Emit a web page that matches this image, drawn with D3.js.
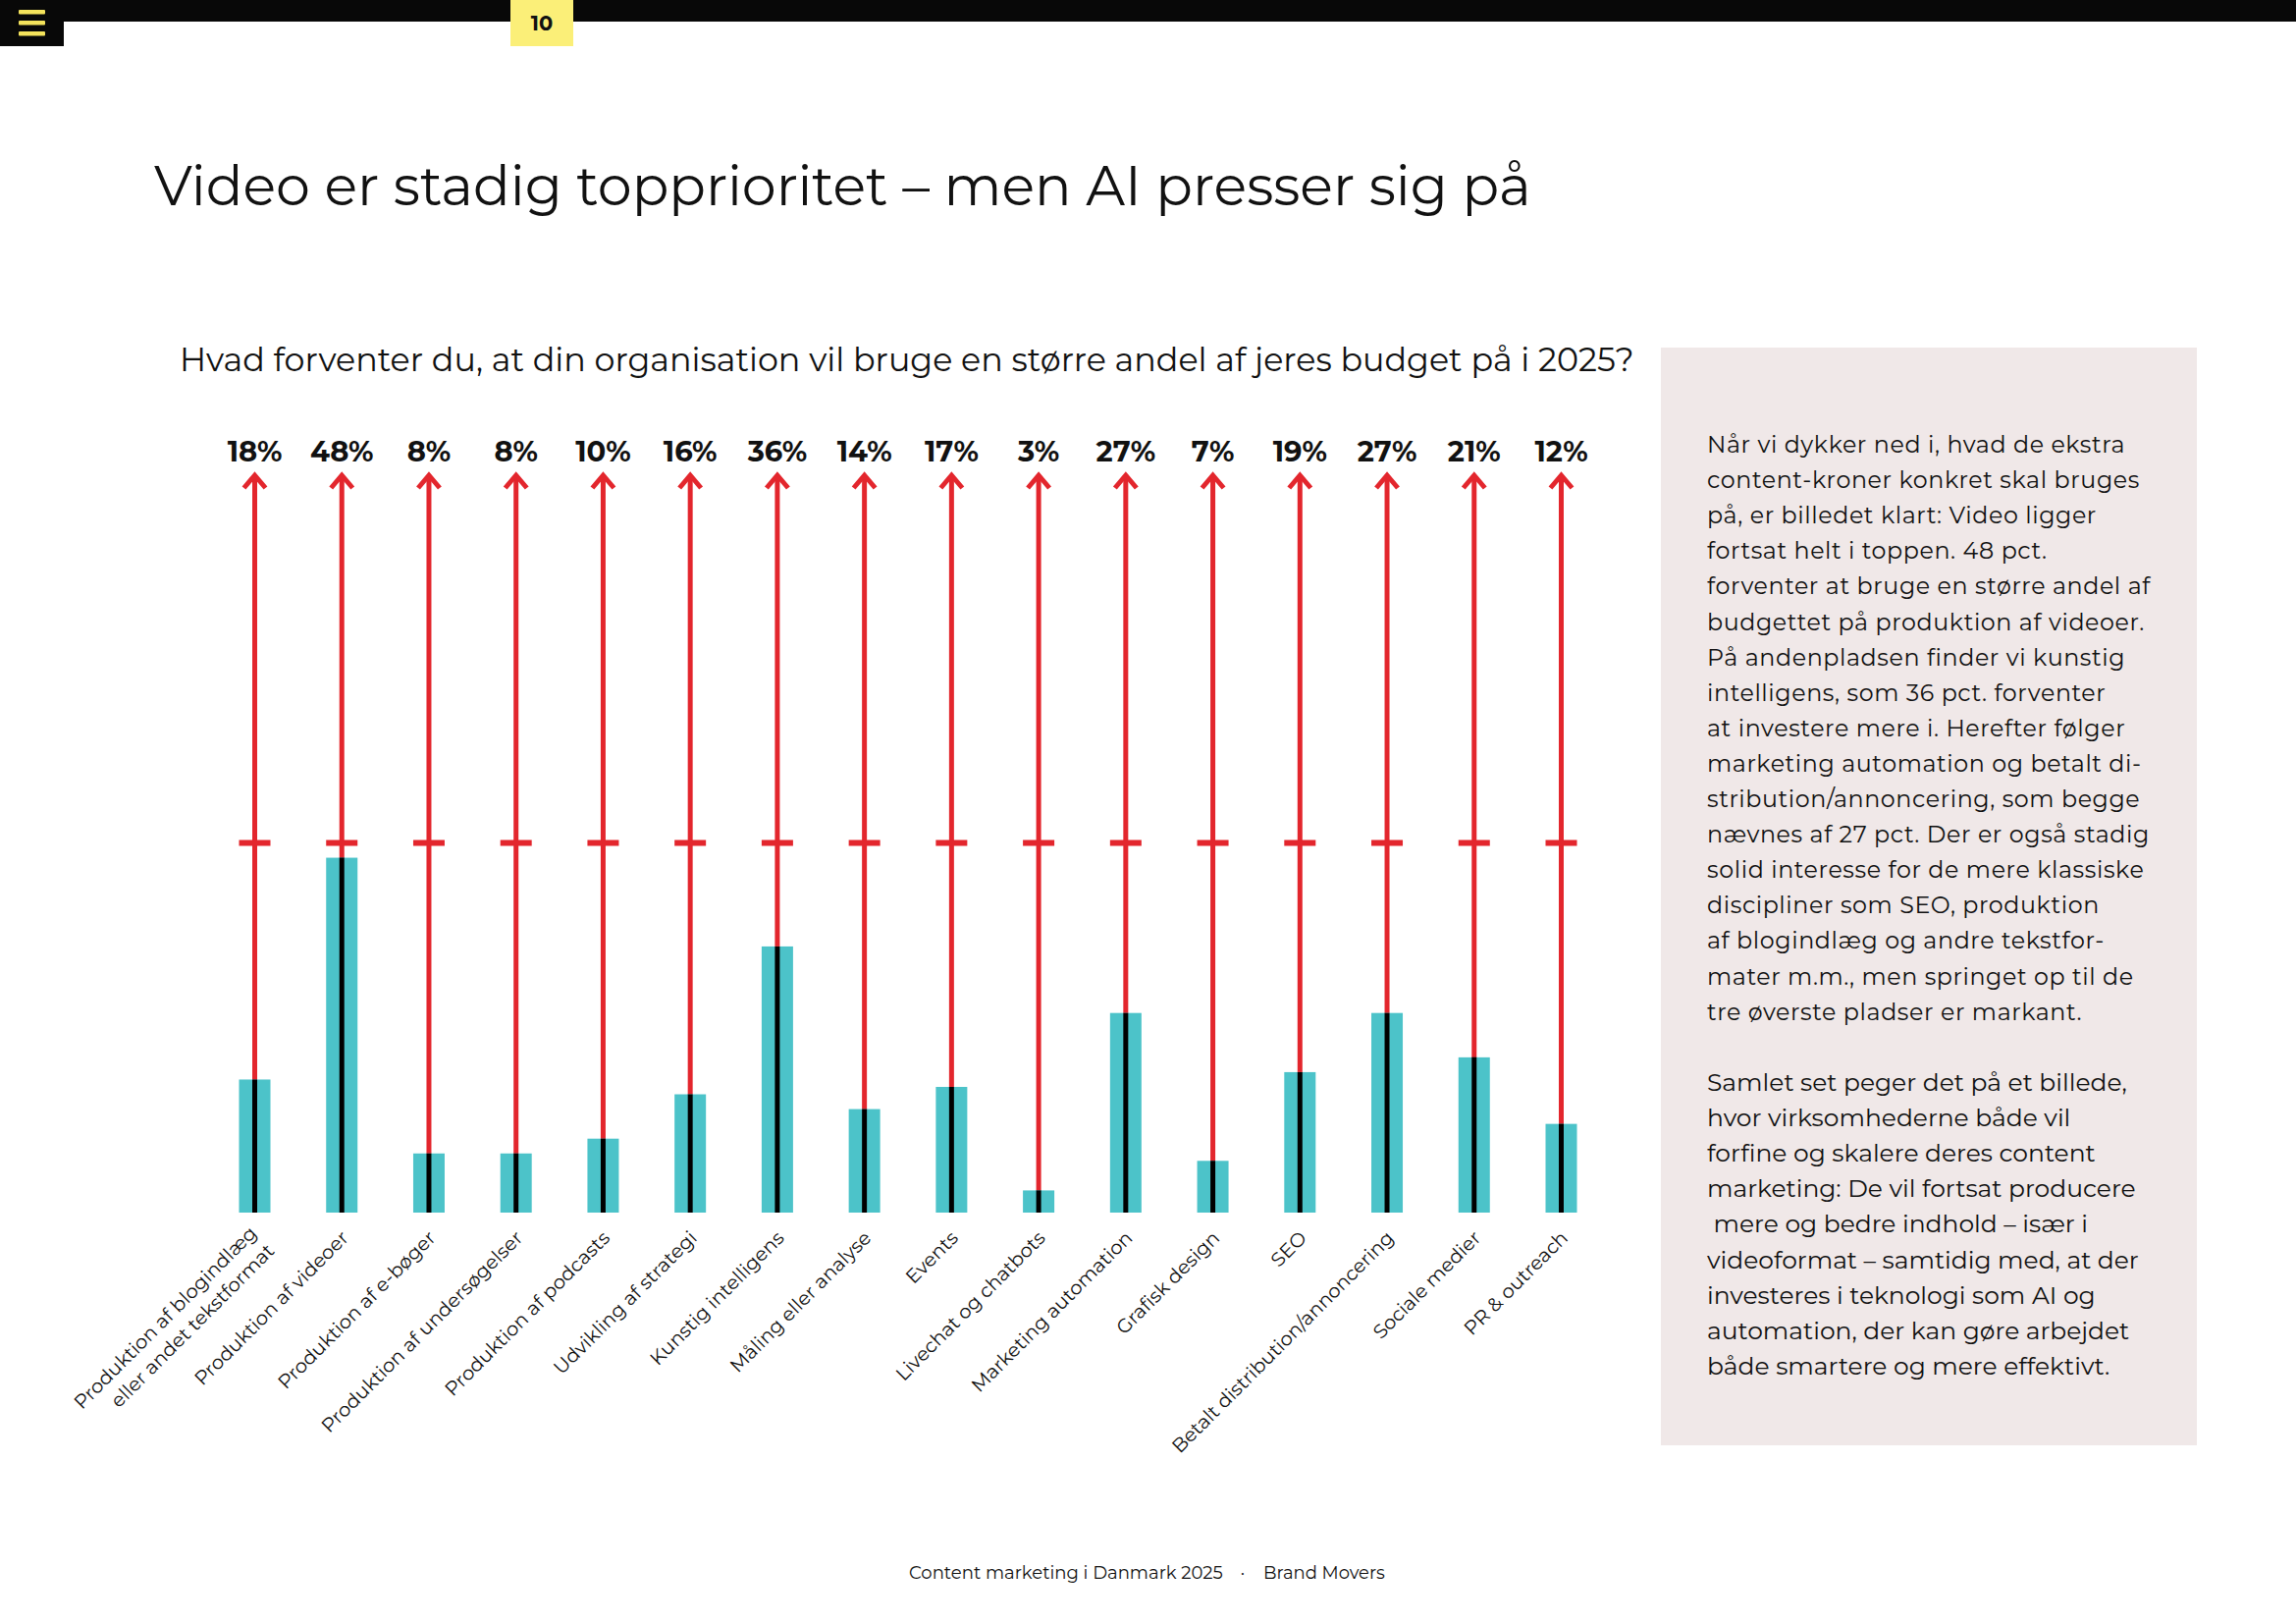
<!DOCTYPE html>
<html>
<head>
<meta charset="utf-8">
<script src="https://cdn.jsdelivr.net/npm/d3@7"></script>
<style>
  body { margin: 0; background: #fff; }
  svg { display: block; }
  text { font-family: Montserrat, "Open Sans", "Noto Sans", sans-serif; fill: #111; }
</style>
</head>
<body>
<div id="chart"></div>
<script>
// Budget priorities 2025 - lollipop/arrow bar chart

const categories = [
    "Produktion af blogindlæg|eller andet tekstformat",
    "Produktion af videoer",
    "Produktion af e-bøger",
    "Produktion af undersøgelser",
    "Produktion af podcasts",
    "Udvikling af strategi",
    "Kunstig intelligens",
    "Måling eller analyse",
    "Events",
    "Livechat og chatbots",
    "Marketing automation",
    "Grafisk design",
    "SEO",
    "Betalt distribution/annoncering",
    "Sociale medier",
    "PR & outreach"
];
const values = [18, 48, 8, 8, 10, 16, 36, 14, 17, 3, 27, 7, 19, 27, 21, 12];
const markerTicks = [50];        // cross marker on every stem
const stemMax = 100;             // arrow tip

const titleText = "Video er stadig topprioritet – men AI presser sig på";
const questionText = "Hvad forventer du, at din organisation vil bruge en større andel af jeres budget på i 2025?";
const paragraph1 = [
    "Når vi dykker ned i, hvad de ekstra",
    "content-kroner konkret skal bruges",
    "på, er billedet klart: Video ligger",
    "fortsat helt i toppen. 48 pct.",
    "forventer at bruge en større andel af",
    "budgettet på produktion af videoer.",
    "På andenpladsen finder vi kunstig",
    "intelligens, som 36 pct. forventer",
    "at investere mere i. Herefter følger",
    "marketing automation og betalt di-",
    "stribution/annoncering, som begge",
    "nævnes af 27 pct. Der er også stadig",
    "solid interesse for de mere klassiske",
    "discipliner som SEO, produktion",
    "af blogindlæg og andre tekstfor-",
    "mater m.m., men springet op til de",
    "tre øverste pladser er markant."
];
const paragraph2 = [
    "Samlet set peger det på et billede,",
    "hvor virksomhederne både vil",
    "forfine og skalere deres content",
    "marketing: De vil fortsat producere",
    " mere og bedre indhold – især i",
    "videoformat – samtidig med, at der",
    "investeres i teknologi som AI og",
    "automation, der kan gøre arbejdet",
    "både smartere og mere effektivt."
];
const footerLeft = "Content marketing i Danmark 2025";
const footerRight = "Brand Movers";
const pageNumber = "10";

const W = 2339, H = 1654;
const red = "#e3262d", teal = "#4cc3c9", yellow = "#fbef78";

const svg = d3.select("#chart")
    .append("svg")
    .attr("width", W)
    .attr("height", H);

// scale a text's font size so its width matches a target
function fitWidth(sel, target) {
    const w = sel.node().getComputedTextLength();
    const fs = parseFloat(sel.attr("font-size"));
    const nfs = fs * target / w;
    sel.attr("font-size", nfs);
    return nfs / fs;
}

// Top bar
svg.append("rect").attr("x", 0).attr("y", 0).attr("width", W).attr("height", 22).attr("fill", "#080808");
svg.append("rect").attr("x", 0).attr("y", 0).attr("width", 65).attr("height", 47).attr("fill", "#080808");
[12, 23, 34].forEach(y => {
    svg.append("rect").attr("x", 19).attr("y", y - 2).attr("width", 27).attr("height", 4.5)
        .attr("rx", 1).attr("fill", "#f4e35c");
});
svg.append("rect").attr("x", 520).attr("y", 0).attr("width", 64).attr("height", 47).attr("fill", yellow);
svg.append("text").attr("x", 552).attr("y", 31).attr("text-anchor", "middle")
    .attr("font-size", 21).attr("font-weight", 700).text(pageNumber);

// Title and question
const title = svg.append("text").attr("x", 157).attr("y", 209)
    .attr("font-size", 62).text(titleText);
fitWidth(title, 1403);

const question = svg.append("text").attr("x", 183).attr("y", 378)
    .attr("font-size", 34).text(questionText);
fitWidth(question, 1482);

// Scales
const xScale = d3.scalePoint()
    .domain(categories)
    .range([259.5, 1590.5]);

const yScale = d3.scaleLinear()
    .domain([0, 100])
    .range([1235, 482]);

const barW = 32;
const chart = svg.append("g");

const item = chart.selectAll(".item")
    .data(categories.map((c, i) => ({ cat: c, value: values[i] })))
    .join("g")
    .attr("class", "item")
    .attr("transform", d => `translate(${xScale(d.cat)},0)`);

// red stem up to the arrow tip
item.append("line")
    .attr("x1", 0).attr("x2", 0)
    .attr("y1", yScale(0)).attr("y2", yScale(stemMax) + 2)
    .attr("stroke", red).attr("stroke-width", 5);

// arrow head
item.append("path")
    .attr("d", `M-11,${yScale(stemMax) + 15} L0,${yScale(stemMax) + 2} L11,${yScale(stemMax) + 15}`)
    .attr("fill", "none").attr("stroke", red).attr("stroke-width", 5)
    .attr("stroke-linejoin", "miter");

// cross markers
markerTicks.forEach(t => {
    item.append("line")
        .attr("x1", -16).attr("x2", 16)
        .attr("y1", yScale(t)).attr("y2", yScale(t))
        .attr("stroke", red).attr("stroke-width", 6);
});

// teal bar
item.append("rect")
    .attr("x", -barW / 2)
    .attr("y", d => yScale(d.value))
    .attr("width", barW)
    .attr("height", d => yScale(0) - yScale(d.value))
    .attr("fill", teal);

// black core line inside bar
item.append("line")
    .attr("x1", 0).attr("x2", 0)
    .attr("y1", d => yScale(d.value)).attr("y2", yScale(0))
    .attr("stroke", "#000").attr("stroke-width", 5);

// value labels
item.append("text")
    .attr("x", 0).attr("y", 470)
    .attr("text-anchor", "middle")
    .attr("font-size", 29).attr("font-weight", 700)
    .text(d => `${d.value}%`);

// category labels, rotated
const labels = item.append("text")
    .attr("class", "cat-label")
    .attr("text-anchor", "end")
    .attr("font-size", 19)
    .attr("transform", "translate(8,1262) rotate(-45)");

labels.each(function(d) {
    const parts = d.cat.split("|");
    const t = d3.select(this);
    if (parts.length === 1) {
        t.text(parts[0]);
    } else {
        parts.forEach((p, i) => {
            t.append("tspan").attr("x", 0).attr("dy", i === 0 ? "-0.35em" : "1.3em").text(p);
        });
    }
});

// match label size to the longest label's width
const refLabel = labels.filter(d => d.cat === "Betalt distribution/annoncering");
const labelScale = refLabel.node().getComputedTextLength();
const labelFs = 19 * 310 / labelScale;
labels.attr("font-size", labelFs);

// Side panel
svg.append("rect")
    .attr("x", 1692).attr("y", 354)
    .attr("width", 546).attr("height", 1118)
    .attr("fill", "#f0e8e8");

function drawParagraph(lines, y0, refIndex, refWidth, spacing) {
    const g = svg.append("g");
    const t = g.selectAll("text")
        .data(lines)
        .join("text")
        .attr("x", 1739)
        .attr("y", (d, i) => y0 + i * 36.1)
        .attr("font-size", 24)
        .attr("letter-spacing", spacing)
        .attr("xml:space", "preserve")
        .text(d => d);
    const ref = t.filter((d, i) => i === refIndex);
    const w = ref.node().getComputedTextLength();
    t.attr("font-size", 24 * refWidth / w);
}
drawParagraph(paragraph1, 461, 4, 452, 0.6);
drawParagraph(paragraph2, 1111, 5, 440, 0);

// Footer
svg.append("text").attr("x", 926).attr("y", 1608).attr("font-size", 19).text(footerLeft)
    .call(s => fitWidth(s, 320));
svg.append("text").attr("x", 1266).attr("y", 1608).attr("text-anchor", "middle")
    .attr("font-size", 19).text("·");
svg.append("text").attr("x", 1287).attr("y", 1608).attr("font-size", 19).text(footerRight)
    .call(s => fitWidth(s, 124));
</script>
</body>
</html>
